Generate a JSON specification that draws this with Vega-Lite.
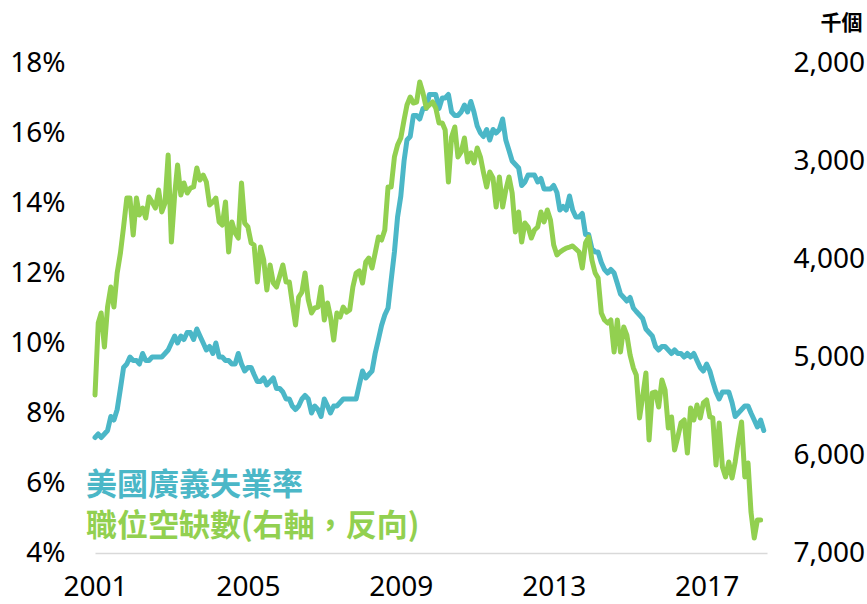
{
  "$schema": "https://vega.github.io/schema/vega-lite/v6.json",
  "width": 672,
  "height": 490,
  "autosize": {"type": "none"},
  "padding": {"left": 95, "top": 63, "right": 100, "bottom": 51},
  "background": "white",
  "config": {
    "view": {"stroke": null},
    "axis": {"grid": false, "ticks": false, "labelColor": "#000000", "labelFont": "Noto Sans", "labelFontSize": 28}
  },
  "datasets": {
    "u6": [
      {"d":"2001-01-01","v":7.3},{"d":"2001-02-01","v":7.4},{"d":"2001-03-01","v":7.3},{"d":"2001-04-01","v":7.4},{"d":"2001-05-01","v":7.5},{"d":"2001-06-01","v":7.9},{"d":"2001-07-01","v":7.8},{"d":"2001-08-01","v":8.1},{"d":"2001-09-01","v":8.7},{"d":"2001-10-01","v":9.3},{"d":"2001-11-01","v":9.4},{"d":"2001-12-01","v":9.6},
      {"d":"2002-01-01","v":9.5},{"d":"2002-02-01","v":9.5},{"d":"2002-03-01","v":9.4},{"d":"2002-04-01","v":9.7},{"d":"2002-05-01","v":9.5},{"d":"2002-06-01","v":9.5},{"d":"2002-07-01","v":9.6},{"d":"2002-08-01","v":9.6},{"d":"2002-09-01","v":9.6},{"d":"2002-10-01","v":9.6},{"d":"2002-11-01","v":9.7},{"d":"2002-12-01","v":9.8},
      {"d":"2003-01-01","v":10.0},{"d":"2003-02-01","v":10.2},{"d":"2003-03-01","v":10.0},{"d":"2003-04-01","v":10.2},{"d":"2003-05-01","v":10.1},{"d":"2003-06-01","v":10.3},{"d":"2003-07-01","v":10.3},{"d":"2003-08-01","v":10.1},{"d":"2003-09-01","v":10.4},{"d":"2003-10-01","v":10.2},{"d":"2003-11-01","v":10.0},{"d":"2003-12-01","v":9.8},
      {"d":"2004-01-01","v":9.9},{"d":"2004-02-01","v":9.7},{"d":"2004-03-01","v":10.0},{"d":"2004-04-01","v":9.6},{"d":"2004-05-01","v":9.6},{"d":"2004-06-01","v":9.5},{"d":"2004-07-01","v":9.5},{"d":"2004-08-01","v":9.4},{"d":"2004-09-01","v":9.4},{"d":"2004-10-01","v":9.7},{"d":"2004-11-01","v":9.4},{"d":"2004-12-01","v":9.2},
      {"d":"2005-01-01","v":9.3},{"d":"2005-02-01","v":9.3},{"d":"2005-03-01","v":9.1},{"d":"2005-04-01","v":8.9},{"d":"2005-05-01","v":8.9},{"d":"2005-06-01","v":9.0},{"d":"2005-07-01","v":8.8},{"d":"2005-08-01","v":8.9},{"d":"2005-09-01","v":9.0},{"d":"2005-10-01","v":8.7},{"d":"2005-11-01","v":8.7},{"d":"2005-12-01","v":8.6},
      {"d":"2006-01-01","v":8.4},{"d":"2006-02-01","v":8.4},{"d":"2006-03-01","v":8.2},{"d":"2006-04-01","v":8.1},{"d":"2006-05-01","v":8.2},{"d":"2006-06-01","v":8.4},{"d":"2006-07-01","v":8.5},{"d":"2006-08-01","v":8.4},{"d":"2006-09-01","v":8.0},{"d":"2006-10-01","v":8.2},{"d":"2006-11-01","v":8.1},{"d":"2006-12-01","v":7.9},
      {"d":"2007-01-01","v":8.4},{"d":"2007-02-01","v":8.2},{"d":"2007-03-01","v":8.0},{"d":"2007-04-01","v":8.2},{"d":"2007-05-01","v":8.2},{"d":"2007-06-01","v":8.3},{"d":"2007-07-01","v":8.4},{"d":"2007-08-01","v":8.4},{"d":"2007-09-01","v":8.4},{"d":"2007-10-01","v":8.4},{"d":"2007-11-01","v":8.4},{"d":"2007-12-01","v":8.8},
      {"d":"2008-01-01","v":9.2},{"d":"2008-02-01","v":9.0},{"d":"2008-03-01","v":9.1},{"d":"2008-04-01","v":9.2},{"d":"2008-05-01","v":9.7},{"d":"2008-06-01","v":10.1},{"d":"2008-07-01","v":10.5},{"d":"2008-08-01","v":10.8},{"d":"2008-09-01","v":11.0},{"d":"2008-10-01","v":11.8},{"d":"2008-11-01","v":12.6},{"d":"2008-12-01","v":13.6},
      {"d":"2009-01-01","v":14.2},{"d":"2009-02-01","v":15.2},{"d":"2009-03-01","v":15.8},{"d":"2009-04-01","v":15.9},{"d":"2009-05-01","v":16.5},{"d":"2009-06-01","v":16.5},{"d":"2009-07-01","v":16.4},{"d":"2009-08-01","v":16.7},{"d":"2009-09-01","v":16.7},{"d":"2009-10-01","v":17.1},{"d":"2009-11-01","v":17.1},{"d":"2009-12-01","v":17.1},
      {"d":"2010-01-01","v":16.7},{"d":"2010-02-01","v":17.0},{"d":"2010-03-01","v":17.0},{"d":"2010-04-01","v":17.1},{"d":"2010-05-01","v":16.6},{"d":"2010-06-01","v":16.5},{"d":"2010-07-01","v":16.5},{"d":"2010-08-01","v":16.6},{"d":"2010-09-01","v":16.8},{"d":"2010-10-01","v":16.6},{"d":"2010-11-01","v":16.9},{"d":"2010-12-01","v":16.6},
      {"d":"2011-01-01","v":16.2},{"d":"2011-02-01","v":16.0},{"d":"2011-03-01","v":15.9},{"d":"2011-04-01","v":16.1},{"d":"2011-05-01","v":15.8},{"d":"2011-06-01","v":16.1},{"d":"2011-07-01","v":16.0},{"d":"2011-08-01","v":16.1},{"d":"2011-09-01","v":16.4},{"d":"2011-10-01","v":15.8},{"d":"2011-11-01","v":15.5},{"d":"2011-12-01","v":15.2},
      {"d":"2012-01-01","v":15.1},{"d":"2012-02-01","v":15.0},{"d":"2012-03-01","v":14.5},{"d":"2012-04-01","v":14.6},{"d":"2012-05-01","v":14.8},{"d":"2012-06-01","v":14.8},{"d":"2012-07-01","v":14.8},{"d":"2012-08-01","v":14.6},{"d":"2012-09-01","v":14.7},{"d":"2012-10-01","v":14.4},{"d":"2012-11-01","v":14.4},{"d":"2012-12-01","v":14.4},
      {"d":"2013-01-01","v":14.5},{"d":"2013-02-01","v":14.3},{"d":"2013-03-01","v":13.8},{"d":"2013-04-01","v":13.9},{"d":"2013-05-01","v":13.8},{"d":"2013-06-01","v":14.2},{"d":"2013-07-01","v":13.8},{"d":"2013-08-01","v":13.6},{"d":"2013-09-01","v":13.6},{"d":"2013-10-01","v":13.7},{"d":"2013-11-01","v":13.1},{"d":"2013-12-01","v":13.1},
      {"d":"2014-01-01","v":12.7},{"d":"2014-02-01","v":12.6},{"d":"2014-03-01","v":12.6},{"d":"2014-04-01","v":12.3},{"d":"2014-05-01","v":12.1},{"d":"2014-06-01","v":12.0},{"d":"2014-07-01","v":12.1},{"d":"2014-08-01","v":12.0},{"d":"2014-09-01","v":11.7},{"d":"2014-10-01","v":11.4},{"d":"2014-11-01","v":11.3},{"d":"2014-12-01","v":11.2},
      {"d":"2015-01-01","v":11.3},{"d":"2015-02-01","v":11.0},{"d":"2015-03-01","v":10.9},{"d":"2015-04-01","v":10.8},{"d":"2015-05-01","v":10.7},{"d":"2015-06-01","v":10.4},{"d":"2015-07-01","v":10.3},{"d":"2015-08-01","v":10.2},{"d":"2015-09-01","v":9.9},{"d":"2015-10-01","v":9.8},{"d":"2015-11-01","v":9.9},{"d":"2015-12-01","v":9.9},
      {"d":"2016-01-01","v":9.8},{"d":"2016-02-01","v":9.7},{"d":"2016-03-01","v":9.8},{"d":"2016-04-01","v":9.7},{"d":"2016-05-01","v":9.7},{"d":"2016-06-01","v":9.6},{"d":"2016-07-01","v":9.7},{"d":"2016-08-01","v":9.6},{"d":"2016-09-01","v":9.7},{"d":"2016-10-01","v":9.5},{"d":"2016-11-01","v":9.3},{"d":"2016-12-01","v":9.2},
      {"d":"2017-01-01","v":9.4},{"d":"2017-02-01","v":9.2},{"d":"2017-03-01","v":8.9},{"d":"2017-04-01","v":8.6},{"d":"2017-05-01","v":8.4},{"d":"2017-06-01","v":8.6},{"d":"2017-07-01","v":8.6},{"d":"2017-08-01","v":8.6},{"d":"2017-09-01","v":8.3},{"d":"2017-10-01","v":7.9},{"d":"2017-11-01","v":8.0},{"d":"2017-12-01","v":8.1},
      {"d":"2018-01-01","v":8.2},{"d":"2018-02-01","v":8.2},{"d":"2018-03-01","v":8.0},{"d":"2018-04-01","v":7.8},{"d":"2018-05-01","v":7.6},{"d":"2018-06-01","v":7.8},{"d":"2018-07-01","v":7.5}
    ],
    "jolts": [
      {"d":"2001-01-01","v":5388},{"d":"2001-02-01","v":4653},{"d":"2001-03-01","v":4551},{"d":"2001-04-01","v":4898},{"d":"2001-05-01","v":4490},{"d":"2001-06-01","v":4286},{"d":"2001-07-01","v":4490},{"d":"2001-08-01","v":4143},{"d":"2001-09-01","v":3939},{"d":"2001-10-01","v":3673},{"d":"2001-11-01","v":3378},{"d":"2001-12-01","v":3378},
      {"d":"2002-01-01","v":3755},{"d":"2002-02-01","v":3378},{"d":"2002-03-01","v":3551},{"d":"2002-04-01","v":3480},{"d":"2002-05-01","v":3582},{"d":"2002-06-01","v":3367},{"d":"2002-07-01","v":3418},{"d":"2002-08-01","v":3480},{"d":"2002-09-01","v":3296},{"d":"2002-10-01","v":3520},{"d":"2002-11-01","v":3429},{"d":"2002-12-01","v":2939},
      {"d":"2003-01-01","v":3827},{"d":"2003-02-01","v":3347},{"d":"2003-03-01","v":3041},{"d":"2003-04-01","v":3347},{"d":"2003-05-01","v":3224},{"d":"2003-06-01","v":3327},{"d":"2003-07-01","v":3276},{"d":"2003-08-01","v":3265},{"d":"2003-09-01","v":3071},{"d":"2003-10-01","v":3194},{"d":"2003-11-01","v":3143},{"d":"2003-12-01","v":3214},
      {"d":"2004-01-01","v":3449},{"d":"2004-02-01","v":3418},{"d":"2004-03-01","v":3378},{"d":"2004-04-01","v":3622},{"d":"2004-05-01","v":3653},{"d":"2004-06-01","v":3418},{"d":"2004-07-01","v":3929},{"d":"2004-08-01","v":3622},{"d":"2004-09-01","v":3735},{"d":"2004-10-01","v":3786},{"d":"2004-11-01","v":3224},{"d":"2004-12-01","v":3633},
      {"d":"2005-01-01","v":3673},{"d":"2005-02-01","v":3837},{"d":"2005-03-01","v":3857},{"d":"2005-04-01","v":4235},{"d":"2005-05-01","v":3878},{"d":"2005-06-01","v":4010},{"d":"2005-07-01","v":4316},{"d":"2005-08-01","v":4061},{"d":"2005-09-01","v":4245},{"d":"2005-10-01","v":4286},{"d":"2005-11-01","v":4173},{"d":"2005-12-01","v":4061},
      {"d":"2006-01-01","v":4235},{"d":"2006-02-01","v":4235},{"d":"2006-03-01","v":4449},{"d":"2006-04-01","v":4673},{"d":"2006-05-01","v":4388},{"d":"2006-06-01","v":4337},{"d":"2006-07-01","v":4143},{"d":"2006-08-01","v":4418},{"d":"2006-09-01","v":4551},{"d":"2006-10-01","v":4500},{"d":"2006-11-01","v":4490},{"d":"2006-12-01","v":4286},
      {"d":"2007-01-01","v":4622},{"d":"2007-02-01","v":4449},{"d":"2007-03-01","v":4592},{"d":"2007-04-01","v":4827},{"d":"2007-05-01","v":4551},{"d":"2007-06-01","v":4592},{"d":"2007-07-01","v":4490},{"d":"2007-08-01","v":4541},{"d":"2007-09-01","v":4520},{"d":"2007-10-01","v":4286},{"d":"2007-11-01","v":4143},{"d":"2007-12-01","v":4122},
      {"d":"2008-01-01","v":4245},{"d":"2008-02-01","v":4031},{"d":"2008-03-01","v":3990},{"d":"2008-04-01","v":4092},{"d":"2008-05-01","v":3939},{"d":"2008-06-01","v":3776},{"d":"2008-07-01","v":3806},{"d":"2008-08-01","v":3704},{"d":"2008-09-01","v":3265},{"d":"2008-10-01","v":3265},{"d":"2008-11-01","v":2959},{"d":"2008-12-01","v":2837},
      {"d":"2009-01-01","v":2765},{"d":"2009-02-01","v":2582},{"d":"2009-03-01","v":2429},{"d":"2009-04-01","v":2347},{"d":"2009-05-01","v":2408},{"d":"2009-06-01","v":2398},{"d":"2009-07-01","v":2194},{"d":"2009-08-01","v":2306},{"d":"2009-09-01","v":2459},{"d":"2009-10-01","v":2429},{"d":"2009-11-01","v":2398},{"d":"2009-12-01","v":2459},
      {"d":"2010-01-01","v":2612},{"d":"2010-02-01","v":2612},{"d":"2010-03-01","v":2684},{"d":"2010-04-01","v":3214},{"d":"2010-05-01","v":2755},{"d":"2010-06-01","v":2653},{"d":"2010-07-01","v":2959},{"d":"2010-08-01","v":2908},{"d":"2010-09-01","v":2765},{"d":"2010-10-01","v":3010},{"d":"2010-11-01","v":2918},{"d":"2010-12-01","v":3020},
      {"d":"2011-01-01","v":2867},{"d":"2011-02-01","v":2959},{"d":"2011-03-01","v":3112},{"d":"2011-04-01","v":3265},{"d":"2011-05-01","v":3112},{"d":"2011-06-01","v":3173},{"d":"2011-07-01","v":3469},{"d":"2011-08-01","v":3163},{"d":"2011-09-01","v":3469},{"d":"2011-10-01","v":3296},{"d":"2011-11-01","v":3163},{"d":"2011-12-01","v":3327},
      {"d":"2012-01-01","v":3724},{"d":"2012-02-01","v":3520},{"d":"2012-03-01","v":3827},{"d":"2012-04-01","v":3633},{"d":"2012-05-01","v":3673},{"d":"2012-06-01","v":3786},{"d":"2012-07-01","v":3704},{"d":"2012-08-01","v":3673},{"d":"2012-09-01","v":3520},{"d":"2012-10-01","v":3622},{"d":"2012-11-01","v":3500},{"d":"2012-12-01","v":3602},
      {"d":"2013-01-01","v":3857},{"d":"2013-02-01","v":3959},{"d":"2013-03-01","v":3929},{"d":"2013-04-01","v":3908},{"d":"2013-05-01","v":3888},{"d":"2013-06-01","v":3878},{"d":"2013-07-01","v":3867},{"d":"2013-08-01","v":3898},{"d":"2013-09-01","v":3929},{"d":"2013-10-01","v":4092},{"d":"2013-11-01","v":3837},{"d":"2013-12-01","v":3776},
      {"d":"2014-01-01","v":4010},{"d":"2014-02-01","v":4143},{"d":"2014-03-01","v":4194},{"d":"2014-04-01","v":4551},{"d":"2014-05-01","v":4622},{"d":"2014-06-01","v":4653},{"d":"2014-07-01","v":4622},{"d":"2014-08-01","v":4949},{"d":"2014-09-01","v":4622},{"d":"2014-10-01","v":4949},{"d":"2014-11-01","v":4694},{"d":"2014-12-01","v":4776},
      {"d":"2015-01-01","v":4980},{"d":"2015-02-01","v":5112},{"d":"2015-03-01","v":5184},{"d":"2015-04-01","v":5622},{"d":"2015-05-01","v":5408},{"d":"2015-06-01","v":5163},{"d":"2015-07-01","v":5847},{"d":"2015-08-01","v":5367},{"d":"2015-09-01","v":5357},{"d":"2015-10-01","v":5510},{"d":"2015-11-01","v":5235},{"d":"2015-12-01","v":5337},
      {"d":"2016-01-01","v":5724},{"d":"2016-02-01","v":5612},{"d":"2016-03-01","v":5949},{"d":"2016-04-01","v":5816},{"d":"2016-05-01","v":5673},{"d":"2016-06-01","v":5643},{"d":"2016-07-01","v":5980},{"d":"2016-08-01","v":5520},{"d":"2016-09-01","v":5643},{"d":"2016-10-01","v":5490},{"d":"2016-11-01","v":5622},{"d":"2016-12-01","v":5469},
      {"d":"2017-01-01","v":5439},{"d":"2017-02-01","v":5612},{"d":"2017-03-01","v":5622},{"d":"2017-04-01","v":6102},{"d":"2017-05-01","v":5673},{"d":"2017-06-01","v":6122},{"d":"2017-07-01","v":6224},{"d":"2017-08-01","v":6071},{"d":"2017-09-01","v":6235},{"d":"2017-10-01","v":6071},{"d":"2017-11-01","v":5847},{"d":"2017-12-01","v":5663},
      {"d":"2018-01-01","v":6224},{"d":"2018-02-01","v":6082},{"d":"2018-03-01","v":6582},{"d":"2018-04-01","v":6847},{"d":"2018-05-01","v":6663},{"d":"2018-06-01","v":6663}
    ]
  },
  "layer": [
    {
      "data": {"name": "u6"},
      "mark": {"type": "line", "strokeWidth": 5, "strokeJoin": "round", "strokeCap": "round"},
      "encoding": {
        "x": {
          "field": "d", "type": "temporal",
          "scale": {"type": "utc", "domain": [{"year": 2001, "month": 1, "date": 1, "utc": true}, {"year": 2018, "month": 8, "date": 1, "utc": true}], "nice": false},
          "axis": {
            "title": null,
            "values": [{"year": 2001, "month": 1, "date": 1, "utc": true}, {"year": 2005, "month": 1, "date": 1, "utc": true}, {"year": 2009, "month": 1, "date": 1, "utc": true}, {"year": 2013, "month": 1, "date": 1, "utc": true}, {"year": 2017, "month": 1, "date": 1, "utc": true}],
            "format": "%Y",
            "domain": true, "domainColor": "#d9d9d9", "domainWidth": 1.5,
            "labelFlush": false, "labelOverlap": false, "labelPadding": 20, "labelBaseline": "top"
          }
        },
        "y": {
          "field": "v", "type": "quantitative",
          "scale": {"domain": [4, 18], "nice": false, "zero": false},
          "axis": {"title": null, "orient": "left", "domain": false, "values": [4, 6, 8, 10, 12, 14, 16, 18], "labelExpr": "datum.value + '%'", "labelPadding": 30}
        },
        "color": {
          "datum": "美國廣義失業率", "type": "nominal",
          "scale": {"domain": ["美國廣義失業率", "職位空缺數(右軸，反向)"], "range": ["#4bb7c7", "#92d050"]},
          "legend": {
            "orient": "none", "legendX": -40, "legendY": 407, "direction": "vertical", "title": null,
            "symbolSize": 0, "symbolOpacity": 0, "symbolStrokeWidth": 0, "labelOffset": 0,
            "labelFont": "Noto Sans CJK TC", "labelFontSize": 31, "labelFontWeight": "bold", "labelLimit": 0, "rowPadding": 9, "padding": 0,
            "encode": {"labels": {"update": {"fill": {"signal": "datum.value === '美國廣義失業率' ? '#4bb7c7' : '#92d050'"}}}}
          }
        }
      }
    },
    {
      "data": {"name": "jolts"},
      "mark": {"type": "line", "strokeWidth": 5, "strokeJoin": "round", "strokeCap": "round"},
      "encoding": {
        "x": {"field": "d", "type": "temporal"},
        "y": {
          "field": "v", "type": "quantitative",
          "scale": {"domain": [2000, 7000], "reverse": true, "nice": false, "zero": false},
          "axis": {
            "orient": "right", "domain": false, "values": [2000, 3000, 4000, 5000, 6000, 7000], "format": ",.0f", "labelPadding": 26,
            "title": "千個", "titleAngle": 0, "titleAlign": "right", "titleBaseline": "bottom", "titleX": 95, "titleY": -30,
            "titleFont": "Noto Sans CJK TC", "titleFontSize": 21, "titleFontWeight": "bold", "titleColor": "#000000"
          }
        },
        "color": {"datum": "職位空缺數(右軸，反向)", "type": "nominal"}
      }
    }
  ],
  "resolve": {"scale": {"y": "independent"}, "axis": {"y": "independent"}}
}
